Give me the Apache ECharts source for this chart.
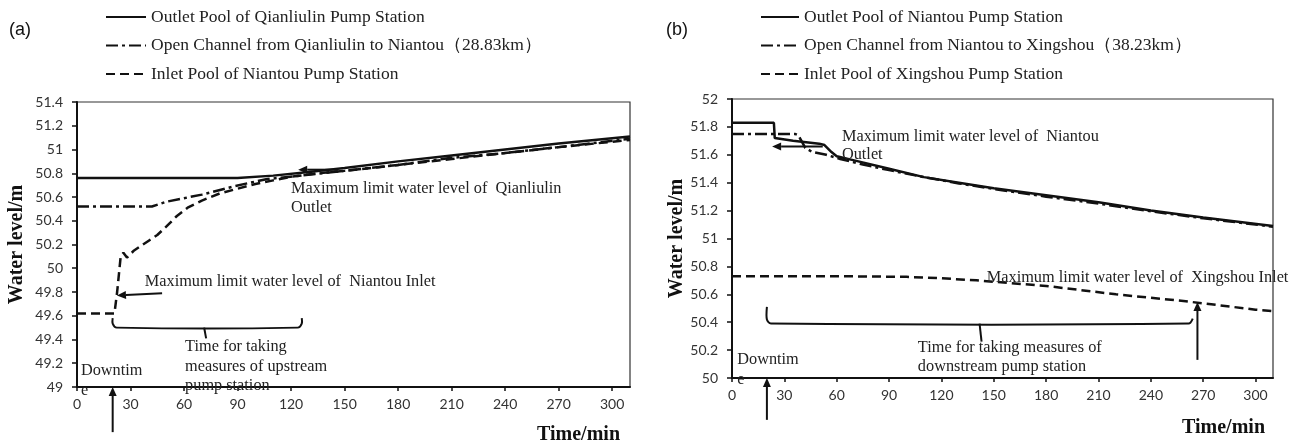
<!DOCTYPE html>
<html><head><meta charset="utf-8">
<script src="https://cdn.jsdelivr.net/npm/echarts@6/dist/echarts.min.js"></script>
<style>html,body{margin:0;padding:0;background:#fff}#c{width:1292px;height:447px}</style>
</head><body><div id="c"></div>
<script>
// ---------- DATA ----------
// (a) Qianliulin -> Niantou
const aOutletT = [0, 30, 60, 90, 110, 130, 150, 180, 210, 240, 270, 310];
const aOutletV = [50.76, 50.76, 50.76, 50.76, 50.78, 50.81, 50.845, 50.90, 50.95, 51.00, 51.05, 51.11];
const aChannelT = [0, 20, 42, 50, 60, 70, 88, 106, 125, 150, 180, 210, 240, 270, 310];
const aChannelV = [50.52, 50.52, 50.52, 50.56, 50.59, 50.62, 50.69, 50.75, 50.78, 50.82, 50.87, 50.93, 50.97, 51.02, 51.09];
const aInletT = [0, 21, 22.5, 24.5, 26, 28, 32, 40, 45, 50, 56, 62, 70, 80, 90, 100, 110, 120, 135, 150, 180, 210, 240, 270, 310];
const aInletV = [49.62, 49.62, 49.8, 50.1, 50.13, 50.09, 50.15, 50.23, 50.28, 50.35, 50.44, 50.51, 50.57, 50.63, 50.67, 50.71, 50.74, 50.77, 50.80, 50.82, 50.87, 50.92, 50.97, 51.02, 51.08];
// (b) Niantou -> Xingshou
const bOutletT = [0, 24, 24.5, 35, 50, 53, 57, 60, 70, 90, 110, 130, 150, 180, 210, 240, 270, 310];
const bOutletV = [51.83, 51.83, 51.72, 51.70, 51.68, 51.67, 51.62, 51.59, 51.56, 51.50, 51.44, 51.40, 51.36, 51.31, 51.26, 51.20, 51.15, 51.09];
const bChannelT = [0, 36, 38, 42, 46, 54, 62, 75, 90, 110, 130, 150, 180, 210, 240, 270, 310];
const bChannelV = [51.75, 51.75, 51.74, 51.65, 51.62, 51.60, 51.57, 51.53, 51.49, 51.44, 51.395, 51.355, 51.30, 51.25, 51.195, 51.145, 51.085];
const bInletT = [0, 60, 100, 120, 140, 160, 180, 200, 220, 240, 260, 280, 300, 310];
const bInletV = [50.73, 50.73, 50.725, 50.715, 50.70, 50.68, 50.66, 50.63, 50.60, 50.575, 50.55, 50.52, 50.49, 50.48];

const namesA = ['Outlet Pool of Qianliulin Pump Station', 'Open Channel from Qianliulin to Niantou（28.83km）', 'Inlet Pool of Niantou Pump Station'];
const namesB = ['Outlet Pool of Niantou Pump Station', 'Open Channel from Niantou to Xingshou（38.23km）', 'Inlet Pool of Xingshou Pump Station'];
const xTicks = {min: 0, max: 310, interval: 30};
const yA = {min: 49, max: 51.4, interval: 0.2};
const yB = {min: 50, max: 52, interval: 0.2};

// ---------- CHART ----------
const SERIF = '"Liberation Serif","Times New Roman",serif';
const SANS = 'Lato, "Open Sans", sans-serif';
const zip = (t, v) => t.map((x, i) => [x, v[i]]);
const styles = [
  {type: 'solid', width: 2.5},
  {type: [12, 4, 3, 4], width: 2.5},
  {type: [9, 5], width: 2.5}
];
const chart = echarts.init(document.getElementById('c'), null, {renderer: 'canvas'});

function xAxis(g) {
  return {
    type: 'value', gridIndex: g, min: xTicks.min, max: xTicks.max, interval: xTicks.interval,
    axisLine: {show: true, onZero: false, lineStyle: {color: '#111', width: 2}},
    axisTick: {show: true, inside: false, length: 4, lineStyle: {color: '#111', width: 1.5}},
    axisLabel: {color: '#333', fontFamily: SANS, fontSize: 14, margin: 10, showMaxLabel: false,
      formatter: v => (v % 30 === 0 ? String(v) : '')},
    splitLine: {show: false}
  };
}
function yAxis(g, r, gap) {
  return {
    type: 'value', gridIndex: g, min: r.min, max: r.max, interval: r.interval,
    name: 'Water level/m', nameLocation: 'middle', nameGap: gap,
    nameTextStyle: {fontFamily: SERIF, fontWeight: 'bold', fontSize: 20, color: '#111'},
    axisLine: {show: true, onZero: false, lineStyle: {color: '#111', width: 2}},
    axisTick: {show: true, inside: false, length: 5, lineStyle: {color: '#111', width: 1.5}},
    axisLabel: {color: '#333', fontFamily: SANS, fontSize: 14, margin: 14,
      formatter: v => String(Math.round(v * 10) / 10)},
    splitLine: {show: false}
  };
}
function mk(name, t, v, g, i) {
  return {
    name, type: 'line', xAxisIndex: g, yAxisIndex: g, data: zip(t, v),
    symbol: 'none', smooth: false, animation: false,
    lineStyle: Object.assign({color: '#111'}, styles[i]), itemStyle: {color: '#111'}
  };
}
function legend(names, left, w) {
  return {
    data: names, orient: 'vertical', left, top: 8, padding: 0, itemWidth: w, itemHeight: 18, itemGap: 10.5,
    selectedMode: false,
    itemStyle: {color: 'rgba(0,0,0,0)', borderColor: 'rgba(0,0,0,0)', borderWidth: 0, opacity: 0},
    textStyle: {fontFamily: SERIF, fontSize: 17.5, color: '#222', lineHeight: 18}
  };
}

chart.setOption({
  animation: false,
  grid: [
    {left: 77, top: 102, width: 553, height: 285, show: true, borderColor: '#333', borderWidth: 1.2, containLabel: false},
    {left: 732, top: 99, width: 541, height: 279, show: true, borderColor: '#333', borderWidth: 1.2, containLabel: false}
  ],
  legend: [legend(namesA, 105, 40), legend(namesB, 760, 38)],
  xAxis: [xAxis(0), xAxis(1)],
  yAxis: [yAxis(0, yA, 50), yAxis(1, yB, 40)],
  series: [
    mk(namesA[0], aOutletT, aOutletV, 0, 0),
    mk(namesA[1], aChannelT, aChannelV, 0, 1),
    mk(namesA[2], aInletT, aInletV, 0, 2),
    mk(namesB[0], bOutletT, bOutletV, 1, 0),
    mk(namesB[1], bChannelT, bChannelV, 1, 1),
    mk(namesB[2], bInletT, bInletV, 1, 2)
  ]
});

// ---------- ANNOTATIONS (anchored in data units) ----------
const P = (g, p) => chart.convertToPixel({gridIndex: g}, p);
const gfx = [];
function text(str, x, y, opt) {
  gfx.push({type: 'text', z: 100, style: Object.assign({
    text: str, x, y, font: '16.3px ' + SERIF, fill: '#222',
    textVerticalAlign: 'middle', verticalAlign: 'middle', textAlign: 'left', align: 'left'
  }, opt || {})});
}
function dtext(g, str, p, opt) { const q = P(g, p); text(str, q[0], q[1], opt); }
function arrow(g, from, to) {
  const a = P(g, from), b = P(g, to);
  const dx = b[0] - a[0], dy = b[1] - a[1], L = Math.hypot(dx, dy) || 1;
  const ux = dx / L, uy = dy / L, hl = 9, hw = 4;
  const bx = b[0] - ux * hl, by = b[1] - uy * hl;
  gfx.push({type: 'line', z: 100, shape: {x1: a[0], y1: a[1], x2: bx, y2: by}, style: {stroke: '#111', lineWidth: 2}});
  gfx.push({type: 'polygon', z: 100, shape: {points: [[b[0], b[1]], [bx - uy * hw, by + ux * hw], [bx + uy * hw, by - ux * hw]]}, style: {fill: '#111'}});
}
function brace(g, tL, tR, vTop, vBot, tMid, vMid, rightUp) {
  const l = P(g, [tL, vTop]), lb = P(g, [tL, vBot]), r = P(g, [tR, vTop]), rb = P(g, [tR, vBot]);
  const m = P(g, [tMid, vBot]), mb = P(g, [tMid, vMid]);
  const pts = [[l[0], l[1]], [l[0], lb[1] - 4], [l[0] + 4, lb[1]], [rb[0] - 4, rb[1]]];
  if (rightUp) pts.push([rb[0], rb[1] - 5]); else { pts.push([rb[0], rb[1] - 4]); pts.push([r[0], r[1]]); }
  gfx.push({type: 'polyline', z: 100, shape: {points: pts, smooth: 0.3}, style: {stroke: '#111', lineWidth: 2, fill: null}});
  gfx.push({type: 'line', z: 100, shape: {x1: m[0] - 2, y1: m[1], x2: mb[0], y2: mb[1]}, style: {stroke: '#111', lineWidth: 2}});
}

// panel labels & x names
text('(a)', 9, 30, {font: '18px "Liberation Sans", Arial, sans-serif', fill: '#111'});
text('(b)', 666, 30, {font: '18px "Liberation Sans", Arial, sans-serif', fill: '#111'});
text('Time/min', 620, 435, {font: 'bold 20px ' + SERIF, fill: '#111', textAlign: 'right', align: 'right'});
text('Time/min', 1265, 428, {font: 'bold 20px ' + SERIF, fill: '#111', textAlign: 'right', align: 'right'});

// (a)
arrow(0, [146, 50.83], [124, 50.83]);
dtext(0, 'Maximum limit water level of  Qianliulin', [120, 50.67]);
dtext(0, 'Outlet', [120, 50.51]);
arrow(0, [47.7, 49.79], [22.4, 49.77]);
dtext(0, 'Maximum limit water level of  Niantou Inlet', [38, 49.89]);
brace(0, 20, 126, 49.58, 49.50, 72.4, 49.41, false);
dtext(0, 'Time for taking', [60.6, 49.34]);
dtext(0, 'measures of upstream', [60.6, 49.17]);
dtext(0, 'pump station', [60.6, 49.01]);
dtext(0, 'Downtim', [2.2, 49.14]);
dtext(0, 'e', [2.2, 48.97]);
arrow(0, [20, 48.62], [20, 49.0]);

// (b)
arrow(1, [52, 51.66], [23, 51.66]);
dtext(1, 'Maximum limit water level of  Niantou', [63, 51.73]);
dtext(1, 'Outlet', [63, 51.60]);
dtext(1, 'Maximum limit water level of  Xingshou Inlet', [146, 50.72]);
brace(1, 20, 264, 50.51, 50.39, 143, 50.26, true);
arrow(1, [266.7, 50.13], [266.7, 50.545]);
dtext(1, 'Time for taking measures of', [106.5, 50.215]);
dtext(1, 'downstream pump station', [106.5, 50.08]);
dtext(1, 'Downtim', [3, 50.13]);
dtext(1, 'e', [3, 49.99]);
arrow(1, [20, 49.7], [20, 50.0]);

chart.setOption({graphic: gfx});
</script></body></html>
